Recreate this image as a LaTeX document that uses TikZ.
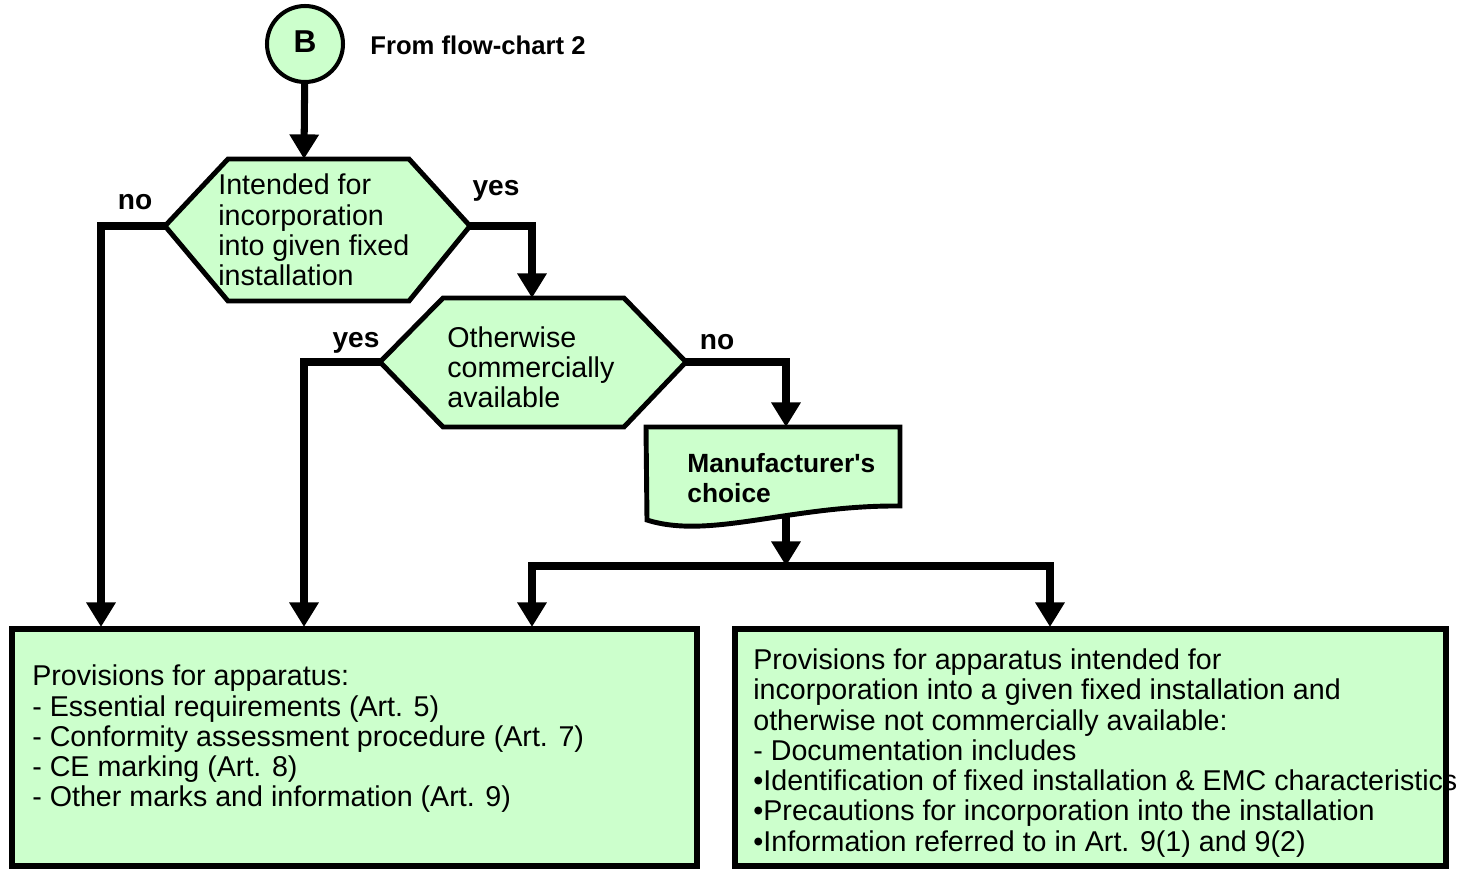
\documentclass[tikz,border=0pt]{standalone}
\usepackage{fontspec}
\setmainfont{Liberation Sans}
\usetikzlibrary{arrows.meta}

\definecolor{paleGreen}{RGB}{204,255,204}

\tikzset{
  conn/.style={line width=4pt, -{Triangle[width=16pt,length=14pt]}},
  outline/.style={draw=black, fill=paleGreen, line width=2.8pt, line join=miter},
  boxfill/.style={fill=paleGreen},
  boxedge/.style={draw=black, line width=3.4pt},
  body/.style={font=\fontsize{16.3}{17.2}\selectfont, align=left, inner sep=0pt, anchor=west},
  tag/.style={font=\fontsize{16}{17}\selectfont\bfseries, inner sep=0pt},
}

\begin{document}
\begin{tikzpicture}[x=0.02cm, y=-0.02cm]
  \useasboundingbox (0,0) rectangle (1478,872);

  % entry point
  \node[outline, circle, minimum size=1.52cm, inner sep=0pt, line width=2.3pt,
        font=\fontsize{18}{18}\selectfont\bfseries] (B) at (305,44) {\raisebox{3pt}{B}};
  \node[anchor=west, inner sep=0pt, font=\fontsize{14.6}{15}\selectfont\bfseries] (From) at (370,45) {From flow-chart 2};

  % first decision
  \coordinate (Aw) at (165,226);
  \coordinate (Ae) at (470,226);
  \coordinate (An) at (304,159);
  \draw[outline] (Aw) -- (228,159) -- (409,159) -- (Ae) -- (409,301) -- (228,301) -- cycle;
  \node[body] (A) at (218,230) {Intended for\\incorporation\\into given fixed\\installation};

  % second decision
  \coordinate (Cw) at (380,362);
  \coordinate (Ce) at (686,362);
  \coordinate (Cn) at (532,298);
  \draw[outline] (Cw) -- (443,298) -- (624,298) -- (Ce) -- (624,427) -- (443,427) -- cycle;
  \node[body] (C) at (447,367) {Otherwise\\commercially\\available};

  % document
  \coordinate (Mn) at (786,427);
  \coordinate (Ms) at (786,515);
  \draw[outline] (646,427) -- (900,427) -- (900,506)
     .. controls (790,505) and (710,540) .. (647,520) -- cycle;
  \node[body, font=\fontsize{15}{17.2}\selectfont\bfseries] (M) at (687,478) {Manufacturer\textquotesingle s\\choice};

  % outcome boxes
  \fill[boxfill] (12,629) rectangle (697,866);
  \node[body] (P) at (32,739) {Provisions for apparatus:\\- Essential requirements (Art. 5)\\- Conformity assessment procedure (Art. 7)\\- CE marking (Art. 8)\\- Other marks and information (Art. 9)};
  \draw[boxedge] (12,629) rectangle (697,866);

  \fill[boxfill] (735,629) rectangle (1446,866);
  \node[body] (Q) at (753,753) {Provisions for apparatus intended for\\incorporation into a given fixed installation and\\otherwise not commercially available:\\- Documentation includes\\•Identification of fixed installation \& EMC characteristics\\•Precautions for incorporation into the installation\\•Information referred to in Art. 9(1) and 9(2)};
  \draw[boxedge] (735,629) rectangle (1446,866);

  \coordinate (P1) at (101,627);
  \coordinate (P2) at (304,627);
  \coordinate (P3) at (532,627);
  \coordinate (Q1) at (1050,627);
  \coordinate (S) at (786,566);

  % connectors
  \draw[conn] (B) -- (An);
  \draw[conn] (Aw) -| (P1);
  \draw[conn] (Ae) -| (Cn);
  \draw[conn] (Cw) -| (P2);
  \draw[conn] (Ce) -| (Mn);
  \draw[conn] (Ms) -- (S);
  \draw[conn] (S) -| (P3);
  \draw[conn] (S) -| (Q1);

  \node[tag] (no1) at (135,202) {no};
  \node[tag] (yes1) at (496,191) {yes};
  \node[tag] (yes2) at (356,343) {yes};
  \node[tag] (no2) at (717,342) {no};
\end{tikzpicture}
\end{document}
